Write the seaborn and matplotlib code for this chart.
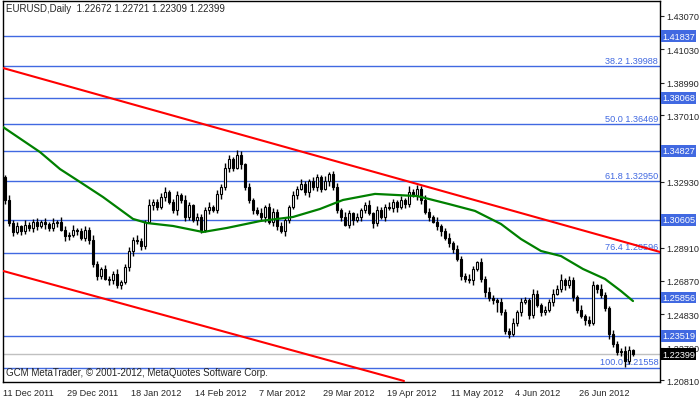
import matplotlib
matplotlib.use("Agg")
import matplotlib.pyplot as plt
import seaborn as sns
import pandas as pd

# daily closes EURUSD
closes = [
    1.3180, 1.3040, 1.2985, 1.3020, 1.2995, 1.3030, 1.3010, 1.3045,
    1.3020, 1.3050, 1.3035, 1.3010, 1.3040, 1.3050, 1.3000, 1.2960,
    1.2970, 1.3000, 1.2990, 1.2950, 1.3000, 1.2940, 1.2790, 1.2720,
    1.2760, 1.2700, 1.2690, 1.2730, 1.2660, 1.2680, 1.2770, 1.2870,
    1.2940, 1.2930, 1.2900, 1.3050, 1.3150, 1.3170, 1.3140, 1.3200,
    1.3230, 1.3170, 1.3120, 1.3210, 1.3180, 1.3080, 1.3150, 1.3060,
    1.3080, 1.3000, 1.3120, 1.3140, 1.3120, 1.3220, 1.3260, 1.3380,
    1.3430, 1.3380, 1.3460, 1.3400, 1.3260, 1.3180, 1.3120, 1.3100,
    1.3080, 1.3140, 1.3050, 1.3110, 1.3020, 1.2990, 1.3060, 1.3140,
    1.3210, 1.3250, 1.3280, 1.3230, 1.3300, 1.3260, 1.3320, 1.3250,
    1.3300, 1.3340, 1.3260, 1.3120, 1.3080, 1.3030, 1.3100, 1.3060,
    1.3080, 1.3120, 1.3150, 1.3100, 1.3040, 1.3120, 1.3080, 1.3140,
    1.3130, 1.3170, 1.3140, 1.3180, 1.3160, 1.3230, 1.3210, 1.3250,
    1.3180, 1.3110, 1.3080, 1.3050, 1.3020, 1.2990, 1.2950, 1.2920,
    1.2880, 1.2820, 1.2720, 1.2700, 1.2690, 1.2760, 1.2800, 1.2700,
    1.2620, 1.2580, 1.2570, 1.2560, 1.2500, 1.2380, 1.2360, 1.2430,
    1.2500, 1.2560, 1.2570, 1.2480, 1.2610, 1.2540, 1.2500, 1.2510,
    1.2560, 1.2610, 1.2640, 1.2690, 1.2660, 1.2690, 1.2590, 1.2510,
    1.2470, 1.2450, 1.2430, 1.2660, 1.2640, 1.2600, 1.2520, 1.2360,
    1.2300, 1.2250, 1.2260, 1.2200, 1.22672, 1.22399,
]
first_open = 1.3320
# wick sizes in pips above/below the body
wick_up = [
    15, 30, 20, 25, 10, 30, 15, 20, 25, 10, 20, 15, 30, 10, 25, 20, 15, 30, 10, 20,
    25, 15, 30, 20, 10, 25, 20, 15, 30, 10, 20, 25, 15, 30, 20, 10, 35, 20, 15, 25,
    30, 10, 20, 25, 15, 30, 20, 10, 25, 15, 20, 30, 10, 25, 20, 30, 25, 15, 30, 20,
    10, 25, 15, 20, 30, 10, 25, 20, 15, 30, 20, 10, 25, 15, 30, 20, 10, 25, 20, 15,
    30, 10, 20, 25, 15, 30, 20, 10, 25, 15, 20, 30, 10, 25, 20, 15, 30, 20, 10, 25,
    15, 40, 20, 25, 15, 30, 20, 10, 25, 15, 20, 30, 10, 25, 20, 15, 30, 20, 10, 25,
    15, 30, 20, 10, 25, 15, 20, 30, 10, 25, 20, 15, 30, 20, 10, 25, 15, 30, 20, 40,
    15, 25, 20, 10, 30, 15, 20, 25, 10, 30, 20, 15, 25, 20, 15, 30, 20, 5,
]
wick_dn = [
    20, 15, 25, 10, 30, 20, 15, 25, 20, 10, 30, 15, 20, 25, 10, 30, 20, 15, 25, 10,
    20, 30, 15, 25, 20, 10, 30, 20, 15, 25, 10, 20, 30, 15, 25, 20, 10, 30, 20, 15,
    25, 10, 20, 30, 15, 25, 20, 10, 30, 20, 15, 25, 10, 20, 30, 15, 25, 20, 10, 30,
    20, 15, 25, 10, 20, 30, 15, 25, 20, 10, 30, 20, 15, 25, 10, 20, 30, 15, 25, 20,
    10, 30, 20, 15, 25, 10, 20, 30, 15, 25, 20, 10, 30, 20, 15, 25, 10, 20, 30, 15,
    25, 20, 10, 30, 20, 15, 25, 10, 20, 30, 15, 25, 20, 10, 30, 20, 15, 25, 10, 20,
    30, 15, 25, 60, 20, 15, 25, 10, 20, 30, 15, 25, 20, 10, 30, 20, 15, 25, 10, 20,
    30, 15, 25, 20, 10, 30, 20, 15, 25, 20, 15, 30, 20, 15, 25, 40, 20, 9,
]

# moving average (bar index, value)
ma_idx = [-0.5, 8.75, 13.75, 18.75, 24.5, 32, 35.5, 42, 49.5, 55.5, 63.75, 72, 78.75,
          84.5, 92.5, 103, 106, 111, 117.5, 124, 129, 134, 139, 144.5, 150, 154, 157]
ma_val = [1.3628, 1.3475, 1.3371, 1.3292, 1.3200, 1.3066, 1.3041, 1.3023, 1.2986,
          1.3011, 1.3053, 1.3078, 1.3127, 1.3182, 1.3219, 1.3206, 1.3188, 1.3157,
          1.3115, 1.3035, 1.2943, 1.2870, 1.2839, 1.2760, 1.2699, 1.2625, 1.2564]

# trend channel (two red lines)
upper_x = [-0.5, 163.75]
upper_y = [1.3989, 1.2864]
lower_x = [-0.5, 99.75]
lower_y = [1.2748, 1.2075]

# fibo levels
fib_levels = [1.41837, 1.39988, 1.38068, 1.36469, 1.34827, 1.32950,
              1.30605, 1.28596, 1.25856, 1.23519, 1.21558]
fib_labels = {1.39988: "38.2", 1.36469: "50.0", 1.32950: "61.8",
              1.28596: "76.4", 1.21558: "100.0"}
boxed_levels = [1.41837, 1.38068, 1.34827, 1.30605, 1.25856, 1.23519]
last_price = 1.22399

price_ticks = [1.43070, 1.41030, 1.38990, 1.37010, 1.32930,
               1.28910, 1.26870, 1.24830, 1.22790, 1.20810]
date_pos = [-0.5, 15.5, 31.5, 47.5, 63.5, 79.5, 95.5, 111.5, 127.5, 143.5]
date_labels = ["11 Dec 2011", "29 Dec 2011", "18 Jan 2012", "14 Feb 2012", "7 Mar 2012",
               "29 Mar 2012", "19 Apr 2012", "11 May 2012", "4 Jun 2012", "26 Jun 2012"]

opens = [first_open] + closes[:-1]
df = pd.DataFrame({"open": opens, "close": closes})
df["high"] = df[["open", "close"]].max(axis=1) + pd.Series(wick_up) / 10000
df["low"] = df[["open", "close"]].min(axis=1) - pd.Series(wick_dn) / 10000
df.loc[len(df) - 1, ["high", "low"]] = [1.22721, 1.22309]
df["i"] = range(len(df))

sns.set_style("white")
plt.rcParams["font.family"] = ["Liberation Sans", "DejaVu Sans"]
fs = 6.6

fig = plt.figure(figsize=(7, 4.02), dpi=100)
ax = fig.add_axes([3 / 700, 19 / 402, 657 / 700, 381 / 402])
ax.set_xlim(-0.5, 163.75)
ax.set_ylim(1.20689, 1.43987)

blue = "#4169E1"
for lv in fib_levels:
    ax.axhline(lv, color=blue, lw=1, zorder=1)
    if lv in fib_labels:
        ax.text(163.3, lv + 0.0008, f"{fib_labels[lv]} {lv:.5f}", color=blue,
                fontsize=fs, ha="right", va="bottom", zorder=2)
ax.axhline(last_price, color="#C0C0C0", lw=1, zorder=1)

ax.plot(upper_x, upper_y, color="red", lw=1.5, zorder=3)
ax.plot(lower_x, lower_y, color="red", lw=1.5, zorder=3)

# candles
ax.vlines(df["i"], df["low"], df["high"], color="black", lw=1, zorder=4)
up = df[df["close"] >= df["open"]]
dn = df[df["close"] < df["open"]]
ax.bar(up["i"], (up["close"] - up["open"]).clip(lower=0.0002), bottom=up["open"],
       width=0.7, color="white", edgecolor="black", lw=0.8, zorder=5)
ax.bar(dn["i"], dn["open"] - dn["close"], bottom=dn["close"],
       width=0.7, color="black", edgecolor="black", lw=0.8, zorder=5)

sns.lineplot(x=ma_idx, y=ma_val, color="green", lw=1.6, ax=ax, zorder=6)

ax.text(0.005, 0.995, "EURUSD,Daily  1.22672 1.22721 1.22309 1.22399",
        transform=ax.transAxes, fontsize=fs + 0.4, va="top", ha="left")
ax.text(0.005, 0.012, "GCM MetaTrader, © 2001-2012, MetaQuotes Software Corp.",
        transform=ax.transAxes, fontsize=fs + 0.4, va="bottom", ha="left")

ax.yaxis.tick_right()
ax.set_yticks(price_ticks, [f"{t:.5f}" for t in price_ticks])
ax.set_xticks(date_pos, date_labels)
ax.tick_params(axis="both", labelsize=fs, length=3, direction="out", pad=1.5)
for lab in ax.get_xticklabels():
    lab.set_ha("left")
for s in ax.spines.values():
    s.set_color("black")
    s.set_linewidth(1)

for lv in boxed_levels:
    ax.text(1.003, lv, f"{lv:.5f}", transform=ax.get_yaxis_transform(), fontsize=fs,
            color="white", va="center", ha="left",
            bbox=dict(boxstyle="square,pad=0.15", fc=blue, ec="none"))
ax.text(1.003, last_price, f"{last_price:.5f}", transform=ax.get_yaxis_transform(),
        fontsize=fs, color="white", va="center", ha="left",
        bbox=dict(boxstyle="square,pad=0.15", fc="black", ec="none"))

fig.savefig("out.png", dpi=100)
